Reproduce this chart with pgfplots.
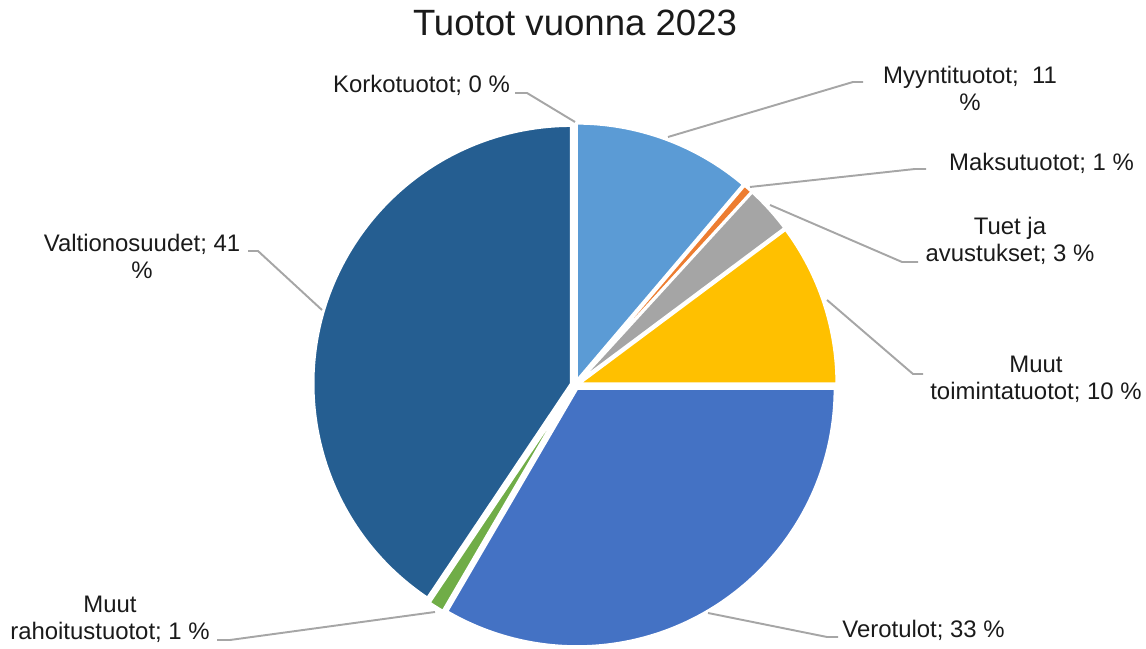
\documentclass[border=0pt]{standalone}
\usepackage{fontspec}
\setmainfont{Liberation Sans}
\usepackage{pgfplots}
\pgfplotsset{compat=1.18}
\definecolor{cMyy}{HTML}{5B9BD5}
\definecolor{cMak}{HTML}{ED7D31}
\definecolor{cTue}{HTML}{A5A5A5}
\definecolor{cMto}{HTML}{FFC000}
\definecolor{cVer}{HTML}{4472C4}
\definecolor{cMra}{HTML}{70AD47}
\definecolor{cVal}{HTML}{255E91}
\definecolor{leader}{HTML}{A6A6A6}
\definecolor{txt}{HTML}{1A1A1A}
\pgfplotsset{ldr/.style={color=leader, solid, no marks, line width=0.55pt}}
% slice: #1 = cumulative percent before, #2 = percent, #3 = colour
\newcommand{\slice}[3]{%
  \pgfmathsetmacro\sa{90-3.6*#1}%
  \pgfmathsetmacro\ea{90-3.6*(#1+#2)}%
  \pgfmathsetmacro\ma{(\sa+\ea)/2}%
  \pgfmathsetmacro\cx{575+4*cos(\ma)}%
  \pgfmathsetmacro\cy{263+4*sin(\ma)}%
  \pgfmathsetmacro\px{\cx+258*cos(\sa)}%
  \pgfmathsetmacro\py{\cy+258*sin(\sa)}%
  \edef\temp{\noexpand\filldraw[fill=#3, draw=white, line width=0.8pt, line join=round]
    (axis cs:\cx,\cy) -- (axis cs:\px,\py) arc[start angle=\sa, end angle=\ea, radius=2.58cm] -- cycle;}%
  \temp
}
\begin{document}
\begin{tikzpicture}
\begin{axis}[
  x=0.01cm, y=0.01cm,
  xmin=0, xmax=1146, ymin=0, ymax=648,
  hide axis, clip=false,
]
\path (axis cs:0,0) rectangle (axis cs:1146,648);
% slices (percent values)
\slice{0}{11.2}{cMyy}
\slice{11.2}{0.6}{cMak}
\slice{11.8}{3.0}{cTue}
\slice{14.8}{10.2}{cMto}
\slice{25.0}{33.4}{cVer}
\slice{58.4}{1.0}{cMra}
\slice{59.4}{40.6}{cVal}
% leader lines
\addplot[ldr] coordinates {(515,555) (527,555) (575,526)};
\addplot[ldr] coordinates {(863,566) (853,566) (668,511)};
\addplot[ldr] coordinates {(926,479) (915,479) (750,461)};
\addplot[ldr] coordinates {(918,386) (902,386) (770,443)};
\addplot[ldr] coordinates {(248,397) (258,397) (322,338)};
\addplot[ldr] coordinates {(923,274) (913,274) (827,348)};
\addplot[ldr] coordinates {(217,8) (230,8) (435,36)};
\addplot[ldr] coordinates {(838,11) (827,11) (708,35)};
% labels
\begin{scope}[every node/.style={inner sep=0pt, align=center, text=txt, font=\fontsize{6.8}{7.65}\selectfont}]
\node[font=\fontsize{10.4}{12.5}\selectfont] at (axis cs:575,625) {Tuotot vuonna 2023};
\node at (axis cs:421.5,563) {Korkotuotot; 0 \%};
\node at (axis cs:970,559.5) {Myyntituotot;\ \ 11\\\%};
\node at (axis cs:1041.5,485) {Maksutuotot; 1 \%};
\node at (axis cs:1010,407.5) {Tuet ja\\avustukset; 3 \%};
\node at (axis cs:142,391.5) {Valtionosuudet; 41\\\%};
\node at (axis cs:1036,268.5) {Muut\\toimintatuotot; 10 \%};
\node at (axis cs:110,28.5) {Muut\\rahoitustuotot; 1 \%};
\node at (axis cs:923.5,18) {Verotulot; 33 \%};
\end{scope}
\end{axis}
\end{tikzpicture}
\end{document}
